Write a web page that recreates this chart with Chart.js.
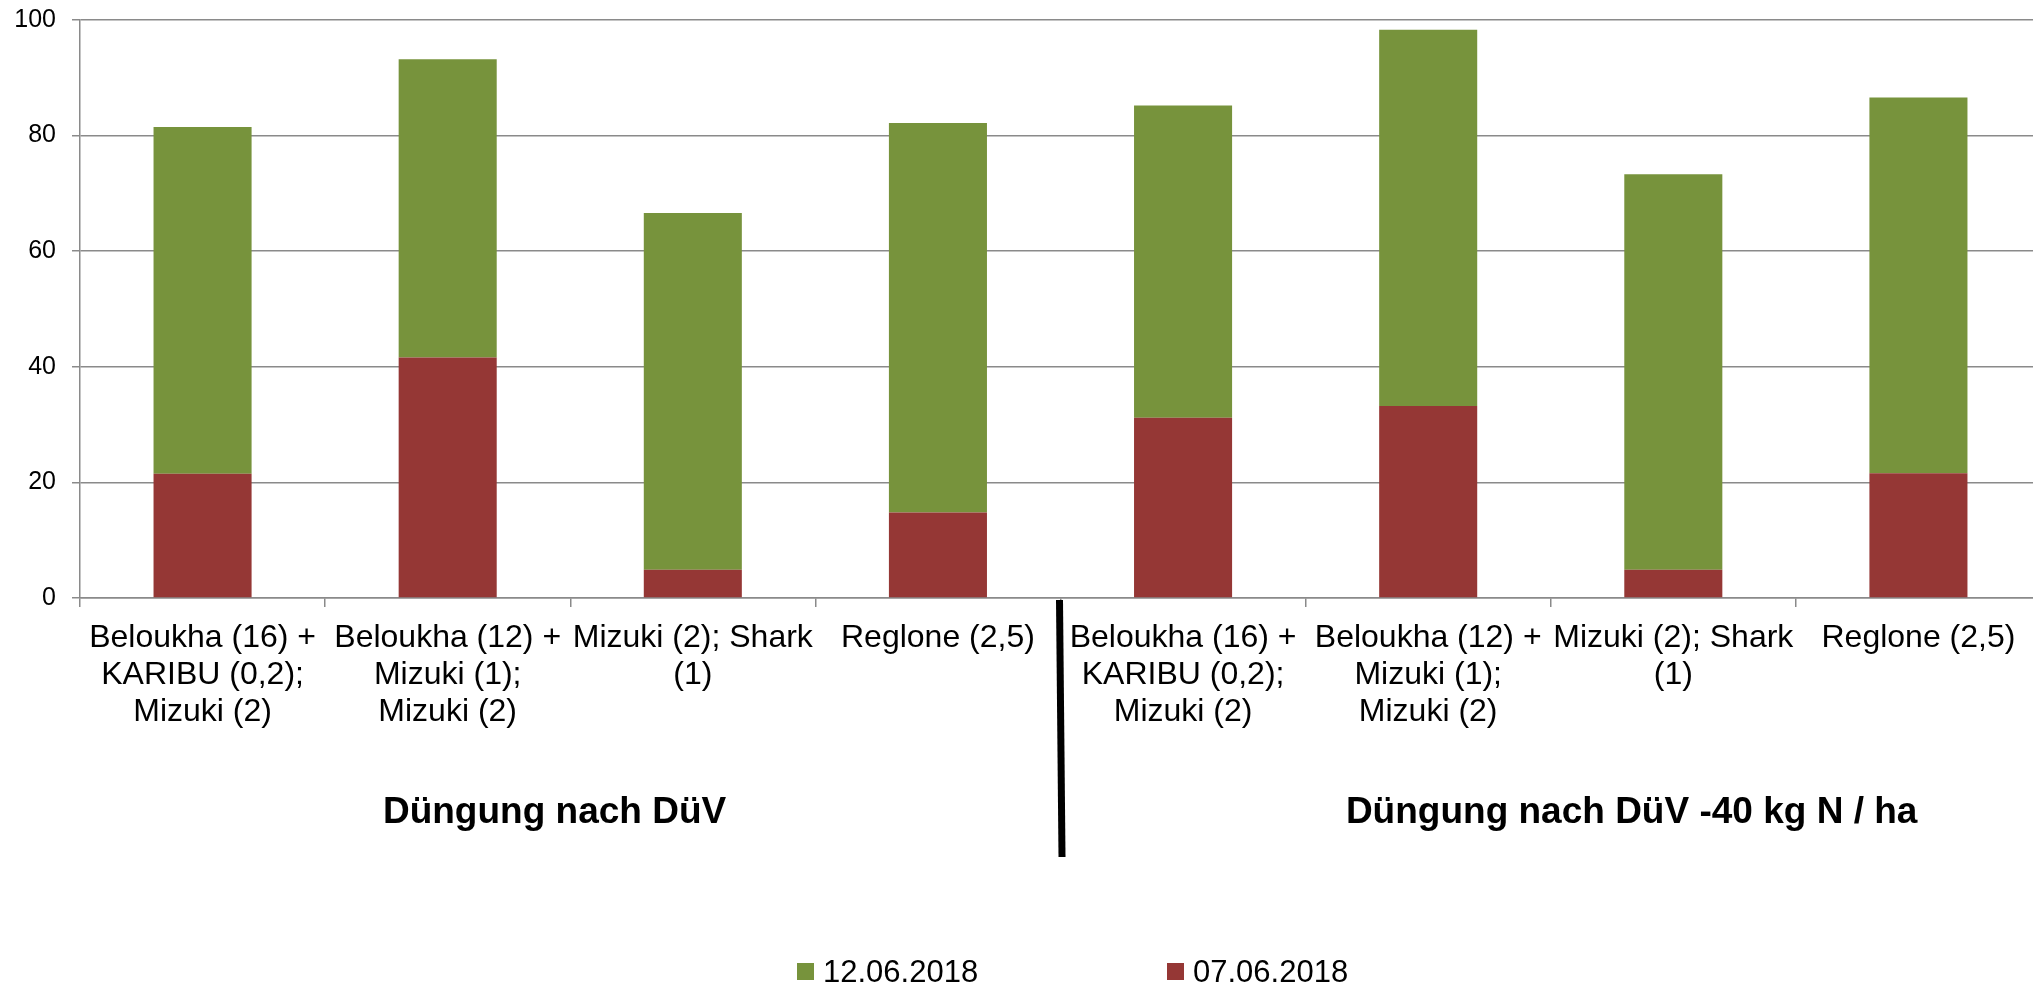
<!DOCTYPE html>
<html>
<head>
<meta charset="utf-8">
<script src="https://cdn.jsdelivr.net/npm/chart.js@4.4.0/dist/chart.umd.min.js"></script>
<style>
    html, body { margin: 0; padding: 0; background: #fff; overflow: hidden; }
    #wrap { width: 2041px; height: 985px; }
</style>
</head>
<body>
<div id="wrap"><canvas id="chart"></canvas></div>
<script>
"use strict";

// categories (multi-line labels), two groups of four
var categories = [
    ["Beloukha (16) +", "KARIBU (0,2);", "Mizuki (2)"],
    ["Beloukha (12) +", "Mizuki (1);", "Mizuki (2)"],
    ["Mizuki (2); Shark", "(1)"],
    ["Reglone (2,5)"],
    ["Beloukha (16) +", "KARIBU (0,2);", "Mizuki (2)"],
    ["Beloukha (12) +", "Mizuki (1);", "Mizuki (2)"],
    ["Mizuki (2); Shark", "(1)"],
    ["Reglone (2,5)"]
];
var groupLabels = ["Düngung nach DüV", "Düngung nach DüV -40 kg N / ha"];

// series values (stacked segments)
var series0706 = [21.5, 41.6, 4.9, 14.8, 31.2, 33.2, 4.9, 21.6];
var series1206 = [60.0, 51.6, 61.7, 67.4, 54.0, 65.1, 68.4, 65.0];
var seriesNames = ["07.06.2018", "12.06.2018"];

var yTicks = { min: 0, max: 100, step: 20 };

var COLORS = { red: "#953735", green: "#77933C", grid: "#8a8a8a" };
var FONT = "'Liberation Sans', Arial, sans-serif";

// where the group texts sit (in category index units) and the split line
var groupCenters = [1.436, 5.83];
var groupSplit = 3.5;

var extrasPlugin = {
    id: "extras",
    afterDraw: function (chart) {
        var ctx = chart.ctx;
        var xs = chart.scales.x;
        var area = chart.chartArea;
        ctx.save();

        // black divider between the groups
        var xd = xs.getPixelForValue(groupSplit);
        ctx.strokeStyle = "#000";
        ctx.lineWidth = 7;
        ctx.beginPath();
        ctx.moveTo(xd - 1, area.bottom + 2);
        ctx.lineTo(xd + 1.5, area.bottom + 259);
        ctx.stroke();

        // group labels
        ctx.fillStyle = "#000";
        ctx.font = "bold 37px " + FONT;
        ctx.textAlign = "center";
        ctx.textBaseline = "alphabetic";
        for (var i = 0; i < groupLabels.length; i++) {
            ctx.fillText(groupLabels[i], xs.getPixelForValue(groupCenters[i]), area.bottom + 225);
        }

        // legend (reverse order, like the original)
        var ds = chart.data.datasets.slice().reverse();
        var lx = [797, 1167];
        ctx.font = "31px " + FONT;
        ctx.textAlign = "left";
        for (var j = 0; j < ds.length; j++) {
            ctx.fillStyle = ds[j].backgroundColor;
            ctx.fillRect(lx[j], 963, 17, 17);
            ctx.fillStyle = "#000";
            ctx.fillText(ds[j].label, lx[j] + 26, 982);
        }
        ctx.restore();
    }
};

var ctx = document.getElementById("chart").getContext("2d");
var chart = new Chart(ctx, {
    type: "bar",
    data: {
        labels: categories,
        datasets: [
            { label: seriesNames[0], data: series0706, backgroundColor: COLORS.red },
            { label: seriesNames[1], data: series1206, backgroundColor: COLORS.green }
        ]
    },
    options: {
        responsive: true,
        maintainAspectRatio: false,
        animation: false,
        devicePixelRatio: 1,
        layout: { padding: { top: 20, right: 0, bottom: 0, left: 0 } },
        datasets: { bar: { categoryPercentage: 1, barPercentage: 0.4, borderWidth: 0 } },
        plugins: { legend: { display: false }, tooltip: { enabled: false } },
        scales: {
            x: {
                stacked: true,
                afterFit: function (s) { s.height = 387; s.paddingLeft = 0; s.paddingRight = 0; },
                grid: { drawOnChartArea: false, drawTicks: true, tickLength: 9, color: COLORS.grid, lineWidth: 1.5, offset: true },
                border: { color: COLORS.grid, width: 1.5 },
                ticks: { color: "#000", padding: 13, maxRotation: 0, autoSkip: false, font: { family: FONT, size: 32, lineHeight: 1.15 } }
            },
            y: {
                stacked: true,
                min: yTicks.min,
                max: yTicks.max,
                // fixed axis width; drop the extra top padding the tick labels would add
                afterFit: function (s) { s.width = 80; s.paddingTop = 0; s.paddingBottom = 0; },
                grid: { color: COLORS.grid, lineWidth: 1.5, tickLength: 8 },
                border: { color: COLORS.grid, width: 1.5 },
                ticks: { stepSize: yTicks.step, color: "#000", padding: 16, font: { family: FONT, size: 25 } }
            }
        }
    },
    plugins: [extrasPlugin]
});
</script>
</body>
</html>
